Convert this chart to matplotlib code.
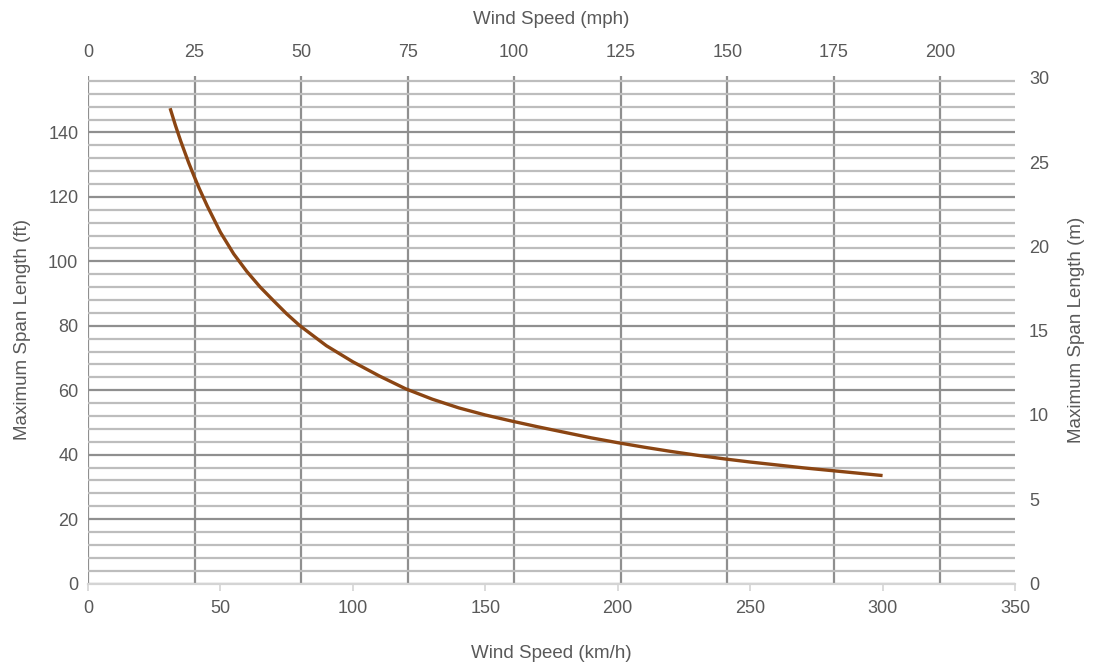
import matplotlib
matplotlib.use("Agg")
import matplotlib.pyplot as plt
import numpy as np

# Data
speed_kmh = [31, 33, 35, 38, 40, 42, 45, 50, 55, 60, 65, 70, 75, 80, 90, 100, 110, 120,
             130, 140, 150, 160, 170, 180, 190, 200, 210, 220, 230, 240, 250, 260, 270,
             280, 290, 300]
span_ft = [147.5, 142.2, 137.3, 130.6, 126.5, 122.6, 117.2, 109.0, 102.3, 96.8, 92.0,
           87.8, 83.7, 80.0, 73.8, 68.8, 64.4, 60.4, 57.2, 54.5, 52.3, 50.4, 48.6, 46.9,
           45.2, 43.7, 42.3, 41.0, 39.8, 38.7, 37.7, 36.8, 35.9, 35.1, 34.3, 33.5]

km_ticks = [0, 50, 100, 150, 200, 250, 300, 350]
mph_ticks = [0, 25, 50, 75, 100, 125, 150, 175, 200]
ft_ticks = [0, 20, 40, 60, 80, 100, 120, 140]
m_ticks = [0, 5, 10, 15, 20, 25, 30]

KMH_PER_MPH = 1.609344
TEXT = "#595959"
MAJOR = "#8f8f8f"
MINOR = "#bdbdbd"
plt.rcParams['font.family'] = ['Liberation Sans', 'DejaVu Sans']
TICK_FS = 13
LAB_FS = 13.5

fig = plt.figure(figsize=(11.03, 6.64), dpi=100)
ax = fig.add_axes([88/1103, 1-583.5/664, (1015-88)/1103, (583.5-76)/664])

ax.set_xlim(0, 350)
ax.set_ylim(0, 157.5)

# horizontal grid: major every 20 ft, minor every 4 ft
ax.set_yticks(ft_ticks)
ax.set_yticks(np.arange(0, 157, 4), minor=True)
ax.grid(axis='y', which='major', color=MAJOR, lw=1.6, zorder=1)
ax.grid(axis='y', which='minor', color=MINOR, lw=1.6, zorder=1)
ax.tick_params(axis='y', which='both', length=0, labelsize=TICK_FS, labelcolor=TEXT, pad=7)

ax.set_xticks(km_ticks)
ax.tick_params(axis='x', which='major', length=5, width=1.2, color='#d4d4d4',
               labelsize=TICK_FS, labelcolor=TEXT, pad=7)
for s in ['top', 'right', 'left']:
    ax.spines[s].set_visible(False)
ax.spines['bottom'].set_color('#d4d4d4')
ax.spines['bottom'].set_linewidth(1.6)

ax.set_xlabel("Wind Speed (km/h)", fontsize=LAB_FS, color=TEXT, labelpad=20)
ax.set_ylabel("Maximum Span Length (ft)", fontsize=LAB_FS, color=TEXT, labelpad=12)

# top mph axis with vertical gridlines
ax_top = ax.twiny()
ax_top.set_xlim(0, 350 / KMH_PER_MPH)
ax_top.set_xticks(mph_ticks)
ax_top.grid(axis='x', color=MAJOR, lw=1.6)
ax_top.tick_params(axis='x', length=0, labelsize=TICK_FS, labelcolor=TEXT, pad=10.5)
for s in ax_top.spines.values():
    s.set_visible(False)
ax_top.set_xlabel("Wind Speed (mph)", fontsize=LAB_FS, color=TEXT, labelpad=15)

# right m axis
ax_r = ax.twinx()
ax_r.set_ylim(0, 30 * 157.5 / 156.9)
ax_r.set_yticks(m_ticks)
ax_r.tick_params(axis='y', length=0, labelsize=TICK_FS, labelcolor=TEXT, pad=10)
for s in ax_r.spines.values():
    s.set_visible(False)
ax_r.set_ylabel("Maximum Span Length (m)", fontsize=LAB_FS, color=TEXT, labelpad=14)

# curve on top
ax.set_zorder(5)
ax.patch.set_visible(False)
ax.plot(speed_kmh, span_ft, color='#8b4513', lw=2.4, solid_capstyle='butt',
        solid_joinstyle='round', zorder=5)

fig.savefig("out.png", dpi=100)
